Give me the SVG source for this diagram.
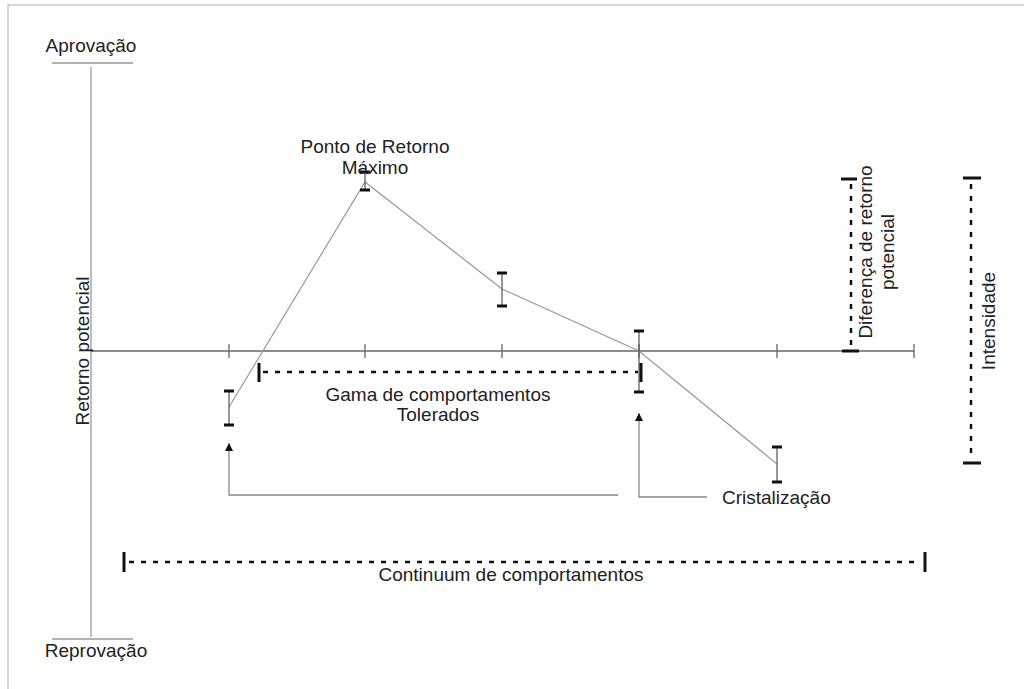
<svg xmlns="http://www.w3.org/2000/svg" width="1024" height="689" viewBox="0 0 1024 689">
<style>
text{font-family:"Liberation Sans",Arial,sans-serif;font-size:19px;fill:#222}
.border{fill:none;stroke:#c8c8c8;stroke-width:1.5}
.axis{stroke:#666;stroke-width:1.3;fill:none}
.vaxis{stroke:#999;stroke-width:1.3;fill:none}
.cap{stroke:#111;stroke-width:3;fill:none}
.bar{stroke:#555;stroke-width:1.2}
.data{stroke:#999;stroke-width:1.2;fill:none}
.dash{stroke:#111;stroke-width:2.5;stroke-dasharray:5 7;fill:none}
.conn{stroke:#888;stroke-width:1.3;fill:none}
</style>
<defs>
<marker id="arr" markerWidth="8" markerHeight="8" refX="8" refY="4" orient="auto" markerUnits="userSpaceOnUse">
<path d="M0,0 L8,4 L0,8 z" fill="#111"/>
</marker>
</defs>
<rect x="8" y="5" width="1030" height="700" class="border"/>

<g id="axes">
<line x1="52" y1="63" x2="133" y2="63" class="vaxis"/>
<line x1="91" y1="67" x2="91" y2="637" class="vaxis"/>
<line x1="52" y1="639" x2="133" y2="639" class="vaxis"/>
<line x1="91" y1="351" x2="914" y2="351" class="axis"/>
<path class="axis" d="M229,344V358M365,344V358M502,344V358M639,344V358M777,344V358M914,344V358"/>
</g>

<g id="labels-axes">
<text x="91" y="52" text-anchor="middle">Aprovação</text>
<text x="96" y="657" text-anchor="middle">Reprovação</text>
<text transform="translate(89,351) rotate(-90)" text-anchor="middle">Retorno potencial</text>
</g>

<g id="data-line">
<polyline class="data" points="229,407 365,182 502,289 639,351 777,464"/>
</g>

<g id="point1">
<line x1="229" y1="391" x2="229" y2="425" class="bar"/>
<path class="cap" d="M224,391H234M224,425H234"/>
</g>
<g id="point2">
<line x1="365" y1="172" x2="365" y2="190" class="bar"/>
<path class="cap" d="M360,172H370M360,190H370"/>
</g>
<g id="point3">
<line x1="502" y1="273" x2="502" y2="306" class="bar"/>
<path class="cap" d="M497,273H507M497,306H507"/>
</g>
<g id="point4">
<line x1="639" y1="331" x2="639" y2="392" class="bar"/>
<path class="cap" d="M634,331H644M634,392H644"/>
</g>
<g id="point5">
<line x1="777" y1="447" x2="777" y2="482" class="bar"/>
<path class="cap" d="M772,447H782M772,482H782"/>
</g>

<g id="ponto-retorno">
<text x="375" y="153" text-anchor="middle">Ponto de Retorno</text>
<text x="375" y="174" text-anchor="middle">Máximo</text>
</g>

<g id="gama">
<line x1="263" y1="372" x2="638" y2="372" class="dash"/>
<path class="cap" d="M259,363V382M641,363V382"/>
<text x="438" y="401" text-anchor="middle">Gama de comportamentos</text>
<text x="438" y="421" text-anchor="middle">Tolerados</text>
</g>

<g id="diferenca">
<line x1="851" y1="184" x2="851" y2="346" class="dash"/>
<path class="cap" d="M841,179H857M842,351H859"/>
<text transform="translate(872,252) rotate(-90)" text-anchor="middle">Diferença de retorno</text>
<text transform="translate(894,252) rotate(-90)" text-anchor="middle">potencial</text>
</g>

<g id="intensidade">
<line x1="971" y1="184" x2="971" y2="458" class="dash"/>
<path class="cap" d="M963,178H981M963,463H981"/>
<text transform="translate(995,321) rotate(-90)" text-anchor="middle">Intensidade</text>
</g>

<g id="continuum">
<line x1="129" y1="562" x2="921" y2="562" class="dash"/>
<path class="cap" d="M124,552V572M925,552V572"/>
<text x="511" y="581" text-anchor="middle">Continuum de comportamentos</text>
</g>

<g id="cristalizacao">
<text x="722" y="504">Cristalização</text>
</g>

<g id="connectors">
<path class="conn" d="M618,495H229V443" marker-end="url(#arr)"/>
<path class="conn" d="M707,497H639V413" marker-end="url(#arr)"/>
</g>
</svg>
